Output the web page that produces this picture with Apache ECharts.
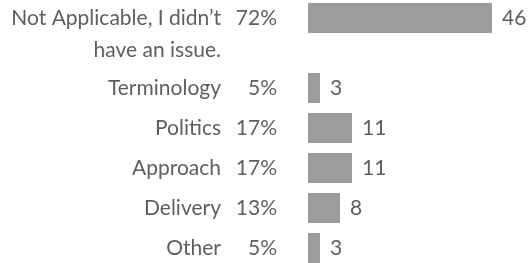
<!DOCTYPE html>
<html>
<head>
<meta charset="utf-8">
<script src="https://cdn.jsdelivr.net/npm/echarts@6/dist/echarts.min.js"></script>
<style>
  html, body { margin: 0; padding: 0; background: #fff; }
  #chart { width: 528px; height: 263px; }
</style>
</head>
<body>
<div id="chart"></div>
<script>
// answers, top to bottom
const categories = [
  "Not Applicable, I didn\u2019t\nhave an issue.",
  "Terminology",
  "Politics",
  "Approach",
  "Delivery",
  "Other",
];
const percents = ["72%", "5%", "17%", "17%", "13%", "5%"];
const counts = [46, 3, 11, 11, 8, 3];

const FONT = "Lato";
const TEXT = "#5e5e5e";
const BAR = "#9c9c9c";
const SIZE = 21;

const tok = (extra) =>
  Object.assign({ fontFamily: FONT, fontSize: SIZE, color: TEXT, lineHeight: 32 }, extra);

const labelFmt = (name) => {
  const pct = percents[categories.indexOf(name)];
  const lines = name.split("\n");
  if (lines.length > 1) {
    // empty first line keeps the first text line centred on the bar
    return `{e| }\n{n|${lines[0]}}{p|${pct}}\n{n|${lines[1]}}{p| }`;
  }
  return `{n|${name}}{p|${pct}}`;
};

const yAxisBase = {
  type: "category",
  inverse: true,
  axisLine: { show: false },
  axisTick: { show: false },
  splitLine: { show: false },
  axisLabel: {
    margin: 31,
    formatter: labelFmt,
    rich: {
      e: tok({}),
      n: tok({}),
      p: tok({ width: 56, align: "right" }),
    },
  },
};

const xAxisBase = { type: "value", min: 0, max: 50, show: false };

const seriesBase = {
  type: "bar",
  barWidth: 30,
  itemStyle: { color: BAR },
  silent: true,
  label: {
    show: true,
    position: "right",
    distance: 10,
    fontFamily: FONT,
    fontSize: SIZE,
    color: TEXT,
  },
};

const chart = echarts.init(document.getElementById("chart"));
chart.setOption({
  animation: false,
  grid: [
    { left: 308, width: 200, top: 0, height: 36, outerBoundsMode: "none" },
    { left: 308, width: 200, top: 68, height: 200, outerBoundsMode: "none" },
  ],
  xAxis: [
    Object.assign({ gridIndex: 0 }, xAxisBase),
    Object.assign({ gridIndex: 1 }, xAxisBase),
  ],
  yAxis: [
    Object.assign({ gridIndex: 0, data: categories.slice(0, 1) }, yAxisBase),
    Object.assign({ gridIndex: 1, data: categories.slice(1) }, yAxisBase),
  ],
  series: [
    Object.assign({ xAxisIndex: 0, yAxisIndex: 0, data: counts.slice(0, 1) }, seriesBase),
    Object.assign({ xAxisIndex: 1, yAxisIndex: 1, data: counts.slice(1) }, seriesBase),
  ],
});
</script>
</body>
</html>
